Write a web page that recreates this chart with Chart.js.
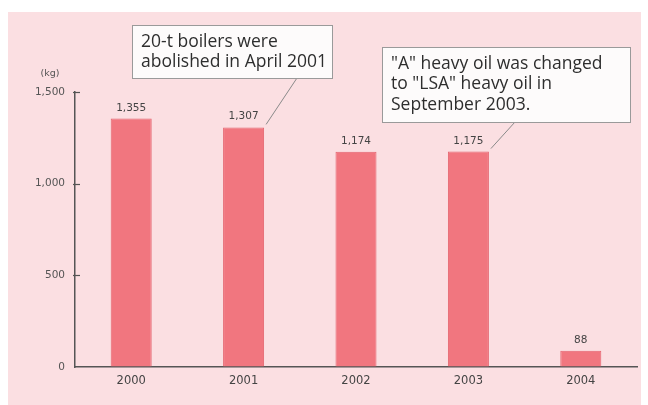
<!DOCTYPE html>
<html>
<head>
<meta charset="utf-8">
<script src="https://cdn.jsdelivr.net/npm/chart.js@4"></script>
<style>
  html, body { margin: 0; padding: 0; background: #ffffff; }
  #wrap { width: 648px; height: 405px; position: relative; }
</style>
</head>
<body>
<div id="wrap"><canvas id="c" width="648" height="405"></canvas></div>
<script>
const years = ["2000", "2001", "2002", "2003", "2004"];
const amounts = [1355, 1307, 1174, 1175, 88];
const yTicks = [0, 500, 1000, 1500];
const unitLabel = "(kg)";
const note1 = ["20-t boilers were", "abolished in April 2001"];
const note2 = ["\"A\" heavy oil was changed", "to \"LSA\" heavy oil in", "September 2003."];

const fmt = v => Number(v).toLocaleString('en-US');

const bgPlugin = {
  id: 'bg',
  beforeDraw(chart) {
    const ctx = chart.ctx;
    ctx.save();
    ctx.fillStyle = '#ffffff';
    ctx.fillRect(0, 0, 648, 405);
    ctx.fillStyle = '#fbdfe2';
    ctx.fillRect(8, 12, 633, 393);
    ctx.restore();
  }
};

const decoPlugin = {
  id: 'deco',
  afterDraw(chart) {
    const ctx = chart.ctx;
    const y = chart.scales.y;
    const meta = chart.getDatasetMeta(0);
    ctx.save();
    // inward tick marks
    ctx.strokeStyle = '#555';
    ctx.lineWidth = 1.2;
    yTicks.forEach(t => {
      if (t === 0) return;
      const py = Math.round(y.getPixelForValue(t)) + 0.5;
      ctx.beginPath();
      ctx.moveTo(y.right - 2, py);
      ctx.lineTo(y.right + 5, py);
      ctx.stroke();
    });
    // unit label
    ctx.fillStyle = '#555';
    ctx.font = '9.5px "DejaVu Sans"';
    ctx.textAlign = 'center';
    ctx.textBaseline = 'middle';
    ctx.fillText(unitLabel, 50, 74);
    // value labels
    ctx.font = '10.5px "DejaVu Sans"';
    ctx.fillStyle = '#444';
    ctx.textBaseline = 'alphabetic';
    meta.data.forEach((bar, i) => {
      ctx.fillText(fmt(amounts[i]), bar.x, bar.y - 8);
    });
    // annotation boxes
    function box(bx, by, bw, bh, lines, lx, ly, ex, ey) {
      ctx.strokeStyle = '#8a8a8a';
      ctx.lineWidth = 1;
      ctx.beginPath();
      ctx.moveTo(lx, ly);
      ctx.lineTo(ex, ey);
      ctx.stroke();
      ctx.fillStyle = '#fdfbfb';
      ctx.fillRect(bx, by, bw, bh);
      ctx.strokeStyle = '#9a9a9a';
      ctx.strokeRect(bx + 0.5, by + 0.5, bw, bh);
      ctx.fillStyle = '#2e2e2e';
      ctx.font = '500 17.5px "Open Sans"';
      ctx.textAlign = 'left';
      ctx.textBaseline = 'middle';
      lines.forEach((t, k) => ctx.fillText(t, bx + 9, by + 17 + k * 20.5));
    }
    const b1 = meta.data[1], b3 = meta.data[3];
    box(132, 25, 200, 53, note1, 297, 78, b1.x + b1.width / 2 + 2, b1.y - 3);
    box(382, 47, 248, 75, note2, 515, 122, b3.x + b3.width / 2 + 2, b3.y - 3);
    ctx.restore();
  }
};

new Chart(document.getElementById('c'), {
  type: 'bar',
  data: {
    labels: years,
    datasets: [{
      data: amounts,
      backgroundColor: '#f1767f',
      borderColor: '#e4646f',
      borderWidth: 1,
      barPercentage: 0.365,
      categoryPercentage: 1
    }]
  },
  options: {
    responsive: false,
    animation: false,
    devicePixelRatio: 1,
    layout: { padding: { left: 0, right: 11, top: 92, bottom: 0 } },
    plugins: { legend: { display: false }, tooltip: { enabled: false } },
    scales: {
      x: {
        grid: { display: true, color: 'rgba(0,0,0,0)', drawTicks: false },
        border: { display: true, color: '#555', width: 1.5 },
        ticks: { color: '#444', font: { family: 'DejaVu Sans', size: 11.5 }, padding: 7 },
        afterFit(s) { s.height = 38; }
      },
      y: {
        min: 0, max: 1500,
        afterBuildTicks(s) { s.ticks = yTicks.map(v => ({ value: v })); },
        grid: { display: true, color: 'rgba(0,0,0,0)', drawTicks: false },
        border: { display: true, color: '#555', width: 1.5 },
        ticks: { color: '#555', font: { family: 'DejaVu Sans', size: 10.5 }, padding: 10, callback: v => fmt(v) },
        afterFit(s) { s.width = 75; }
      }
    }
  },
  plugins: [bgPlugin, decoPlugin]
});
</script>
</body>
</html>
